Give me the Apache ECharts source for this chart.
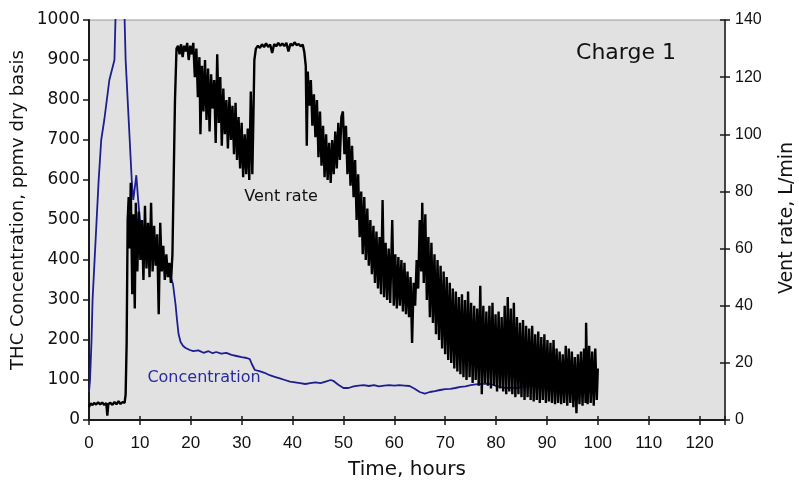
<!DOCTYPE html>
<html>
<head>
<meta charset="utf-8">
<script src="https://cdn.jsdelivr.net/npm/echarts@6/dist/echarts.min.js"></script>
<style>html,body{margin:0;padding:0;background:#fff;}#c{width:799px;height:489px;}</style>
</head>
<body>
<div id="c"></div>
<script>
// Time axis ticks (hours)
const timeTicks = [0, 10, 20, 30, 40, 50, 60, 70, 80, 90, 100, 110, 120];
const concTicks = [0, 100, 200, 300, 400, 500, 600, 700, 800, 900, 1000];
const ventTicks = [0, 20, 40, 60, 80, 100, 120, 140];

// THC concentration, ppmv dry basis  [hours, ppmv]
const concentration = [
  [0,70],[0.2,100],[0.5,200],[0.7,300],[1.1,400],[1.5,500],[1.9,600],[2.4,700],[3.0,750],[3.5,800],
  [4.0,850],[5.0,900],[5.2,1000],[6.1,1250],[7.0,1000],[7.2,900],[7.8,750],[8.4,600],[8.7,550],[9.0,580],
  [9.3,612],[9.6,560],[10.0,500],[10.5,470],[11.0,480],[11.5,450],[12.0,440],[12.5,430],[13.0,425],[13.5,420],
  [14.0,410],[14.5,400],[15.0,390],[15.5,375],[16.0,360],[16.5,340],[17.0,290],[17.3,250],[17.6,215],[18.0,195],
  [18.5,185],[19.0,180],[19.8,175],[20.5,172],[21.5,174],[22.5,168],[23.5,172],[24.3,167],[25.0,170],[26.0,166],
  [27.0,168],[28.0,163],[29.0,160],[30.0,157],[31.0,155],[31.6,152],[32.0,140],[32.6,125],[33.5,122],[34.5,118],
  [35.5,112],[36.5,108],[37.5,104],[38.5,100],[39.5,96],[40.5,94],[41.5,92],[42.5,90],[43.5,92],[44.5,94],
  [45.5,92],[46.5,96],[47.5,100],[48.0,98],[49.0,88],[50.0,80],[51.0,80],[52.0,84],[53.0,86],[54.0,87],
  [55.0,85],[56.0,87],[57.0,84],[58.0,86],[59.0,87],[60.0,86],[61.0,87],[62.0,86],[63.0,85],[64.0,78],
  [65.0,70],[66.0,66],[67.0,70],[68.0,72],[69.0,75],[70.0,77],[71.0,78],[72.0,80],[73.0,83],[74.0,84],
  [75.0,87],[76.0,89],[77.0,90],[78.0,91],[79.0,90],[80.0,85],[81.0,82],[82.0,80],[83.0,81],[84.0,80],
  [85.0,83],[86.0,84],[87.0,86],[88.0,88],[88.7,90]
];

// Vent rate, L/min  [hours, L/min]
const ventRate = [
  [0,4.5],[0.3,5.8],[0.7,5.2],[1.0,6.0],[1.4,5.4],[1.8,6.2],[2.2,5.5],[2.6,6.1],[3.0,5.3],[3.4,5.9],
  [3.6,1.5],[3.8,5.6],[4.2,6.0],[4.6,5.3],[5.0,6.3],[5.4,5.5],[5.8,6.6],[6.2,5.6],[6.6,6.3],[7.0,6.0],
  [7.2,9],[7.4,27],[7.6,70],[7.8,78],[8.0,60],[8.2,83],[8.5,44],[8.7,72],[9.0,39],[9.2,76],
  [9.5,52],[9.8,73],[10.1,56],[10.4,70],[10.7,49],[11.0,75],[11.3,53],[11.6,69],[11.9,50],[12.2,76],
  [12.5,52],[12.8,68],[13.1,54],[13.4,65],[13.7,37],[14.0,69],[14.3,52],[14.6,61],[14.9,49],[15.2,58],
  [15.5,50],[15.8,55],[16.1,48],[16.4,58],[16.6,80],[16.9,112],[17.2,130],[17.5,131],[17.8,128],[18.1,131.5],
  [18.4,127],[18.7,131],[19.0,129],[19.3,132],[19.6,126],[19.9,131],[20.2,128],[20.5,132],[20.8,120],[21.1,130],
  [21.4,113],[21.7,127],[21.9,100],[22.2,124],[22.5,108],[22.8,126],[23.1,105],[23.4,123],[23.7,101],[24.0,121],
  [24.3,109],[24.6,119],[24.9,97],[25.2,128],[25.5,104],[25.8,120],[26.1,96],[26.4,116],[26.7,100],[27.0,112],
  [27.3,95],[27.6,113],[27.9,98],[28.2,110],[28.5,93],[28.8,111],[29.1,91],[29.4,106],[29.7,88],[30.0,104],
  [30.3,85],[30.6,100],[30.9,86],[31.2,102],[31.5,84],[31.8,115],[32.1,86],[32.3,105],[32.5,126],[32.8,130],
  [33.2,131],[33.6,130.2],[34.0,131.5],[34.4,130.5],[34.8,131.8],[35.2,130.6],[35.6,131.4],[36.0,128.5],[36.4,131.6],[36.8,130.8],
  [37.2,132],[37.6,131],[38.0,131.8],[38.4,130.9],[38.8,132],[39.2,129],[39.6,131.7],[40.0,131],[40.4,132.2],[40.8,131.2],
  [41.2,131.6],[41.6,130.8],[42.0,131.4],[42.3,129],[42.6,124],[42.8,96],[43.0,122],[43.3,110],[43.6,119],[43.9,103],
  [44.2,114],[44.5,99],[44.8,112],[45.1,92],[45.4,108],[45.7,89],[46.0,103],[46.3,85],[46.6,100],[46.9,84],
  [47.2,97],[47.5,83],[47.8,98],[48.1,86],[48.4,101],[48.7,88],[49.0,104],[49.3,91],[49.6,106],[49.9,108],
  [50.2,93],[50.5,103],[50.8,86],[51.1,99],[51.4,82],[51.7,96],[52.0,78],[52.3,91],[52.6,70],[52.9,86],
  [53.2,64],[53.5,80],[53.8,58],[54.1,78],[54.4,56],[54.7,74],[55.0,54],[55.3,70],[55.6,51],[55.9,68],
  [56.2,48],[56.5,66],[56.8,46],[57.1,64],[57.4,44],[57.7,77],[58.0,43],[58.3,62],[58.6,42],[58.9,60],
  [59.2,41],[59.6,70],[59.9,40],[60.2,58],[60.5,39],[60.8,57],[61.1,40],[61.4,56],[61.7,38],[62.0,55],
  [62.3,37],[62.6,52],[62.9,36],[63.2,50],[63.5,27],[63.8,48],[64.1,40],[64.4,56],[64.7,46],[65.0,70],
  [65.3,52],[65.5,76],[65.8,48],[66.1,72],[66.4,42],[66.7,64],[67.0,36],[67.3,62],[67.6,34],[67.9,58],
  [68.2,30],[68.5,56],[68.8,28],[69.1,54],[69.4,25],[69.7,52],[70.0,23],[70.3,50],[70.6,21],[70.9,48],
  [71.2,20],[71.5,46],[71.8,18],[72.1,45],[72.4,17],[72.7,43],[73.0,16],[73.3,44],[73.6,15],[73.9,42],
  [74.2,14],[74.5,45],[74.8,15],[75.1,41],[75.4,13],[75.7,40],[76.0,14],[76.3,39],[76.6,12],[76.9,47],
  [77.2,9],[77.5,40],[77.8,13],[78.1,38],[78.4,12],[78.7,40],[79.0,11],[79.3,41],[79.6,12],[79.9,37],
  [80.2,10],[80.5,38],[80.8,11],[81.1,36],[81.4,10],[81.7,40],[82.0,9],[82.3,43],[82.6,10],[82.9,39],
  [83.2,9],[83.5,41],[83.8,8],[84.1,36],[84.4,9],[84.7,34],[85.0,8],[85.3,35],[85.6,7],[85.9,33],
  [86.2,8],[86.5,32],[86.8,7],[87.1,33],[87.4,6.5],[87.7,30],[88.0,7],[88.3,31],[88.6,6],[88.9,29],
  [89.2,7],[89.5,30],[89.8,6],[90.1,28],[90.4,6.5],[90.7,27],[91.0,6],[91.3,28],[91.6,5.5],[91.9,25],
  [92.2,6],[92.5,24],[92.8,5.5],[93.1,23],[93.4,6],[93.7,26],[94.0,5],[94.3,25],[94.6,6],[94.9,24],
  [95.2,4.5],[95.5,22],[95.8,2.4],[96.1,23],[96.4,5.5],[96.7,24],[97.0,5],[97.3,25],[97.6,6],[97.7,34],
  [98.0,5.5],[98.3,26],[98.6,6],[98.9,24],[99.2,5],[99.5,25],[99.8,7],[100,18]
];

const FONT = "'DejaVu Sans', Verdana, sans-serif";
const TICKFONT = "'Liberation Sans', Arial, sans-serif";
const chart = echarts.init(document.getElementById('c'), null, {renderer: 'canvas'});

const gridBox = {left: 89, right: 74, top: 20, bottom: 69};
const tickStyle = {color: '#1a1a1a', width: 1.5};
const option = {
  animation: false,
  backgroundColor: '#ffffff',
  grid: [
    Object.assign({show: true, backgroundColor: '#e1e1e1', borderColor: '#9a9a9a', borderWidth: 1}, gridBox),
    Object.assign({show: false}, gridBox)
  ],
  xAxis: [
    {type: 'value', gridIndex: 0, min: 0, max: 125, interval: 10, position: 'bottom', splitLine: {show: false},
      axisLine: {show: true, onZero: false, lineStyle: {color: '#1a1a1a', width: 2}},
      axisTick: {show: true, inside: false, length: 5, lineStyle: tickStyle},
      axisLabel: {show: true, color: '#111', fontSize: 17, fontFamily: TICKFONT, margin: 15,
        formatter: v => timeTicks.indexOf(v) >= 0 ? String(v) : ''}},
    {type: 'value', gridIndex: 1, min: 0, max: 125, interval: 10, position: 'bottom', splitLine: {show: false},
      axisLine: {show: false, onZero: false},
      axisTick: {show: true, inside: true, length: 4, lineStyle: tickStyle},
      axisLabel: {show: false}}
  ],
  yAxis: [
    {type: 'value', gridIndex: 0, min: 0, max: 1000, interval: 100, position: 'left', splitLine: {show: false},
      axisLine: {show: true, onZero: false, lineStyle: {color: '#1a1a1a', width: 2}},
      axisTick: {show: true, inside: false, length: 6, lineStyle: tickStyle},
      axisLabel: {color: '#111', fontSize: 17, fontFamily: "'DejaVu Sans', sans-serif", margin: 9,
        formatter: v => concTicks.indexOf(v) >= 0 ? String(v) : ''}},
    {type: 'value', gridIndex: 0, min: 0, max: 140, interval: 20, position: 'right', splitLine: {show: false},
      axisLine: {show: true, onZero: false, lineStyle: {color: '#1a1a1a', width: 1.5}},
      axisTick: {show: true, inside: false, length: 5, lineStyle: tickStyle},
      axisLabel: {color: '#111', fontSize: 16, fontFamily: TICKFONT, margin: 10,
        formatter: v => ventTicks.indexOf(v) >= 0 ? String(v) : ''}},
    {type: 'value', gridIndex: 1, min: 0, max: 140, interval: 20, position: 'right', splitLine: {show: false},
      axisLine: {show: false, onZero: false},
      axisTick: {show: true, inside: true, length: 5, lineStyle: tickStyle},
      axisLabel: {show: false}}
  ],
  series: [
    {name: 'Concentration', type: 'line', xAxisIndex: 0, yAxisIndex: 0, data: concentration,
      showSymbol: false, symbol: 'none', clip: true,
      lineStyle: {color: '#1e1e90', width: 1.8}},
    {name: 'Vent rate', type: 'line', xAxisIndex: 0, yAxisIndex: 1, data: ventRate,
      showSymbol: false, symbol: 'none', clip: true,
      lineStyle: {color: '#000000', width: 2.4}}
  ],
  graphic: [
    {type: 'text', x: 407, y: 470, style: {text: 'Time, hours', fill: '#111', font: "20px " + FONT, align: 'center', verticalAlign: 'middle'}},
    {type: 'text', x: 18, y: 210, rotation: Math.PI / 2, style: {text: 'THC Concentration, ppmv dry basis', fill: '#111', font: "18px " + FONT, align: 'center', verticalAlign: 'middle'}},
    {type: 'text', x: 787, y: 218, rotation: Math.PI / 2, style: {text: 'Vent rate, L/min', fill: '#111', font: "19px " + FONT, align: 'center', verticalAlign: 'middle'}},
    {type: 'text', x: 626, y: 53, style: {text: 'Charge 1', fill: '#111', font: "22px " + FONT, align: 'center', verticalAlign: 'middle'}},
    {type: 'text', x: 281, y: 197, style: {text: 'Vent rate', fill: '#111', font: "16px " + FONT, align: 'center', verticalAlign: 'middle'}},
    {type: 'text', x: 204, y: 378, style: {text: 'Concentration', fill: '#2a2aa0', font: "16px " + FONT, align: 'center', verticalAlign: 'middle'}}
  ]
};
chart.setOption(option);
</script>
</body>
</html>
